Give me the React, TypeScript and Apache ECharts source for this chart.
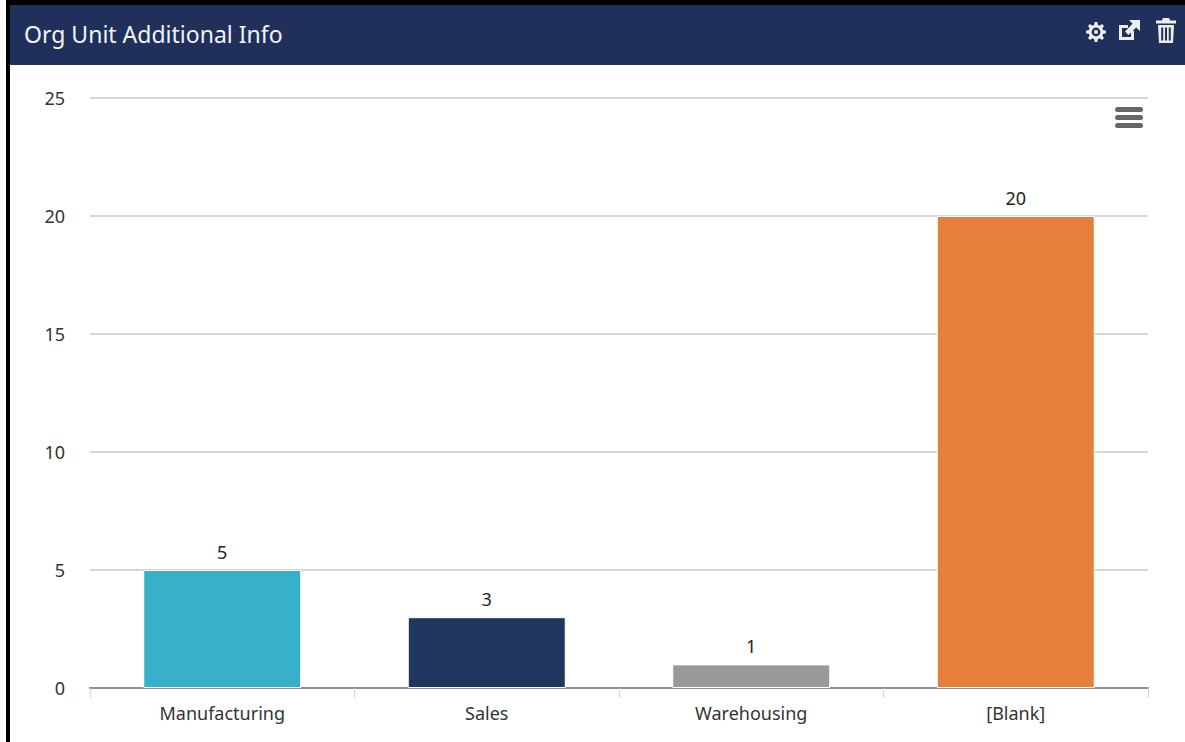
import React, { useEffect, useRef } from "react";
import * as echarts from "echarts";

const title = "Org Unit Additional Info";
const categories = ["Manufacturing", "Sales", "Warehousing", "[Blank]"];
const values = [5, 3, 1, 20];
const barColors = ["#38b0c9", "#1f375f", "#999999", "#e67f3c"];
const FONT = "'Noto Sans', sans-serif";

const gearPath = (() => {
  const cx = 10, cy = 10, n = 8, r1 = 10, r2 = 7.4;
  let d = "";
  for (let i = 0; i < n; i++) {
    const a = (i / n) * Math.PI * 2;
    const s = Math.PI / n;
    const pts = [
      [r2, a - s * 0.62], [r1, a - s * 0.36], [r1, a + s * 0.36], [r2, a + s * 0.62],
    ];
    pts.forEach(([r, t], j) => {
      d += (i === 0 && j === 0 ? "M" : "L") + (cx + r * Math.cos(t)).toFixed(2) + " " + (cy + r * Math.sin(t)).toFixed(2) + " ";
    });
  }
  d += "Z M10 5.6 A4.4 4.4 0 1 0 10 14.4 A4.4 4.4 0 1 0 10 5.6 Z M10 8 A2 2 0 1 1 10 12 A2 2 0 1 1 10 8 Z";
  return d;
})();
const extPath = "M0 5 H9 V8 H3 V17 H12 V11 H15 V20 H0 Z M10 0 H21 V11 L17.2 7.4 L9.5 15 L6 11.5 L13.6 3.8 Z";
const trashPath = "M7 0 H13 L14 2.5 H20 V5.5 H0 V2.5 H6 Z M2 7 H18 L17 25 H3 Z M5.2 9.5 V22.5 H7.2 V9.5 Z M9 9.5 V22.5 H11 V9.5 Z M12.8 9.5 V22.5 H14.8 V9.5 Z";

const reg = (name: string, d: string) =>
  echarts.graphic.registerShape(name, (echarts.graphic as any).extendPath(d, {}));
reg("gearIconP", gearPath);
reg("extIconP", extPath);
reg("trashIconP", trashPath);

export default function App() {
  const ref = useRef<HTMLDivElement>(null);
  useEffect(() => {
    document.body.style.margin = "0";
    const chart = echarts.init(ref.current!, undefined, { renderer: "svg" });
    chart.setOption({
      animation: false,
      backgroundColor: "#ffffff",
      textStyle: { fontFamily: FONT },
      grid: { left: 90, right: 37, top: 98, bottom: 54, containLabel: false },
      xAxis: {
        type: "category",
        data: categories,
        axisLine: { lineStyle: { color: "#8f8f8f", width: 2 } },
        axisTick: { show: true, alignWithLabel: false, length: 10, lineStyle: { color: "#ccd6eb", width: 1 } },
        axisLabel: { color: "#333333", fontSize: 18, fontFamily: FONT, margin: 16 },
        splitLine: { show: false },
      },
      yAxis: {
        type: "value",
        min: 0,
        max: 25,
        interval: 5,
        axisLine: { show: false },
        axisTick: { show: false },
        axisLabel: { color: "#333333", fontSize: 18, fontFamily: FONT, margin: 25 },
        splitLine: { lineStyle: { color: "#d6d6d6", width: 2 } },
      },
      series: [
        {
          type: "bar",
          data: values.map((v, i) => ({ value: v, itemStyle: { color: barColors[i] } })),
          barWidth: 158,
          itemStyle: { borderColor: "#ffffff", borderWidth: 1 },
          label: { show: true, position: "top", distance: 9, color: "#222222", fontSize: 18, fontFamily: FONT },
        },
      ],
      graphic: [
        { type: "rect", silent: true, shape: { x: 0, y: 0, width: 1185, height: 5 }, style: { fill: "#000000" } },
        { type: "rect", silent: true, shape: { x: 6, y: 0, width: 4, height: 742 }, style: { fill: "#000000" } },
        { type: "rect", silent: true, shape: { x: 0, y: 0, width: 6, height: 742 }, style: { fill: "#ffffff" } },
        { type: "rect", silent: true, shape: { x: 10, y: 5, width: 1175, height: 60 }, style: { fill: "#20305a" } },
        {
          type: "text", silent: true, x: 24, y: 34,
          style: { text: title, fill: "#f2f4f8", font: `23px ${FONT}`, textVerticalAlign: "middle", textAlign: "left" },
        },
        { type: "gearIconP", silent: true, x: 1086, y: 22, style: { fill: "#eeeeee" } },
        { type: "extIconP", silent: true, x: 1119, y: 20, style: { fill: "#eeeeee" } },
        { type: "trashIconP", silent: true, x: 1156, y: 18, style: { fill: "#eeeeee" } },
        { type: "rect", silent: true, shape: { x: 1115, y: 107, width: 28, height: 5, r: 2.5 }, style: { fill: "#666666" } },
        { type: "rect", silent: true, shape: { x: 1115, y: 115, width: 28, height: 5, r: 2.5 }, style: { fill: "#666666" } },
        { type: "rect", silent: true, shape: { x: 1115, y: 123, width: 28, height: 5, r: 2.5 }, style: { fill: "#666666" } },
      ],
    });
    return () => chart.dispose();
  }, []);
  return <div ref={ref} style={{ position: "absolute", left: 0, top: 0, width: 1185, height: 742 }} />;
}
